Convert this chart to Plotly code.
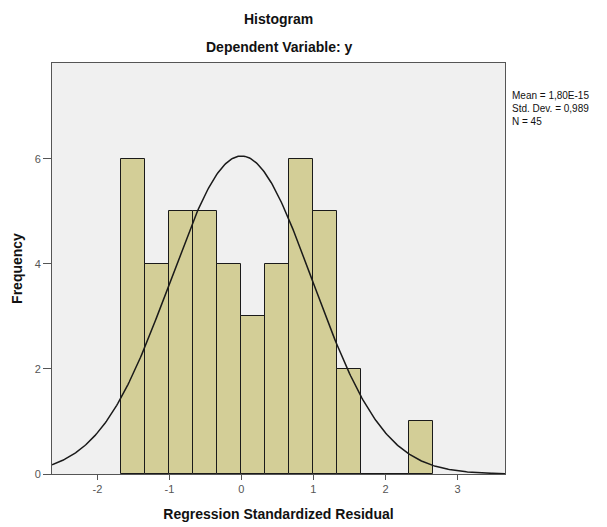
import numpy as np
import plotly.graph_objects as go

# Histogram bins (left edges) and counts
bin_width = 1 / 3
bin_left = [-5/3, -4/3, -1.0, -2/3, -1/3, 0.0, 1/3, 2/3, 1.0, 4/3, 5/3, 2.0, 7/3]
counts = [6, 4, 5, 5, 4, 3, 4, 6, 5, 2, 0, 0, 1]

mean = 1.80e-15
std = 0.989
n = 45

x_ticks = [-2, -1, 0, 1, 2, 3]
y_ticks = [0, 2, 4, 6]

centers = [b + bin_width / 2 for b in bin_left]

x_range = [-2.63, 3.66]
xs = np.linspace(x_range[0], x_range[1], 400)
ys = n * bin_width * np.exp(-0.5 * ((xs - mean) / std) ** 2) / (std * np.sqrt(2 * np.pi))

fig = go.Figure()
fig.add_trace(go.Bar(
    x=centers, y=counts, width=bin_width,
    marker=dict(color="#D3CE97", line=dict(color="#1a1a1a", width=1)),
    showlegend=False, hoverinfo="skip",
))
fig.add_trace(go.Scatter(
    x=xs, y=ys, mode="lines", line=dict(color="#1a1a1a", width=1.5),
    showlegend=False, hoverinfo="skip",
))

font_family = "Liberation Sans, Arial, sans-serif"

fig.update_layout(
    width=599, height=519,
    margin=dict(l=44, r=102, t=55, b=53),
    paper_bgcolor="white",
    plot_bgcolor="#F0F0F0",
    font=dict(family=font_family, color="#555555", size=11),
    bargap=0,
    annotations=[
        dict(text="<b>Histogram</b>", x=0.5, y=1.0, xref="paper", yref="paper",
             yshift=34, yanchor="bottom",
             showarrow=False, font=dict(size=14, color="#111111")),
        dict(text="<b>Dependent Variable: y</b>", x=0.5, y=1.0, xref="paper", yref="paper",
             yshift=6, yanchor="bottom",
             showarrow=False, font=dict(size=14, color="#111111")),
        dict(text="Mean = 1,80E-15<br>Std. Dev. = 0,989<br>N = 45",
             x=1.012, y=0.94, xref="paper", yref="paper", xanchor="left", yanchor="top",
             align="left", showarrow=False, font=dict(size=10, color="#111111")),
    ],
    xaxis=dict(
        range=x_range, tickvals=x_ticks, ticktext=[str(v) for v in x_ticks],
        ticks="outside", ticklen=5, tickcolor="#555555",
        showgrid=False, zeroline=False, automargin=False,
        showline=True, linecolor="#555555", linewidth=1, mirror=True,
        title=dict(text="<b>Regression Standardized Residual</b>",
                   font=dict(size=14, color="#111111"), standoff=14),
    ),
    yaxis=dict(
        range=[0, 7.82], tickvals=y_ticks, ticktext=[str(v) for v in y_ticks],
        ticks="outside", ticklen=8, tickcolor="#555555",
        showgrid=False, zeroline=False, automargin=False,
        showline=True, linecolor="#555555", linewidth=1, mirror=True,
        title=dict(text="<b>Frequency</b>", font=dict(size=14, color="#111111"), standoff=8),
    ),
)

fig.write_html("out.html")
